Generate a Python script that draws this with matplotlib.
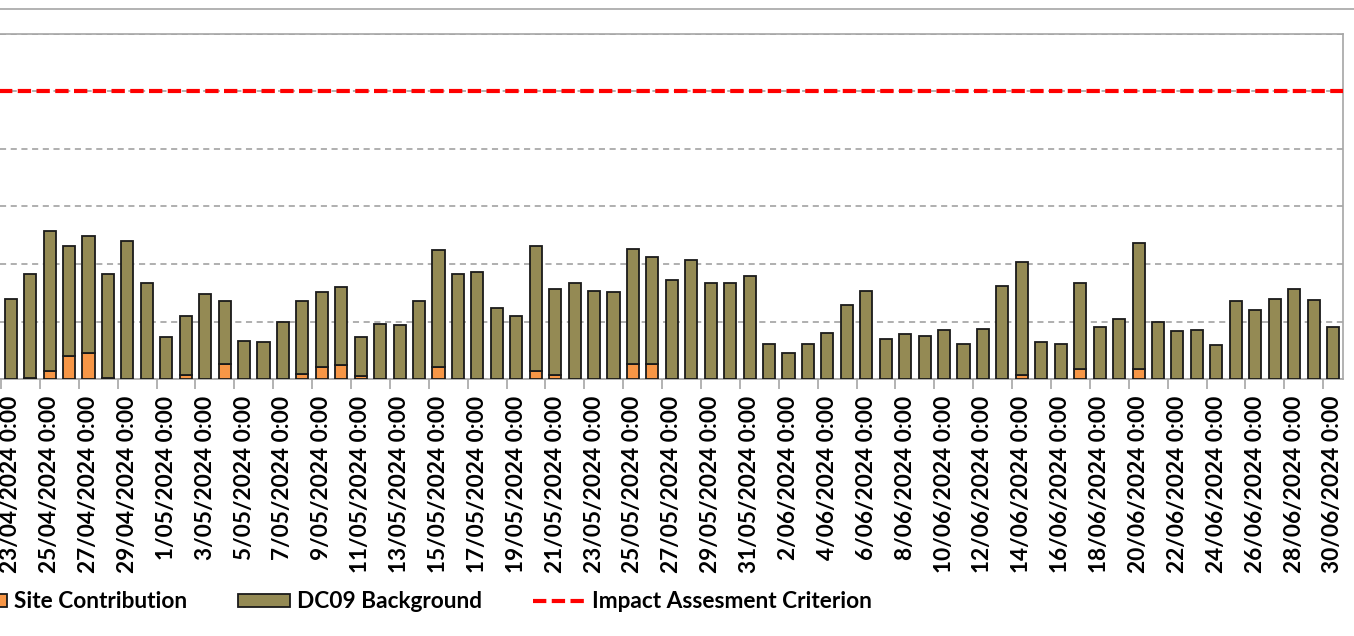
import numpy as np
import pandas as pd
import matplotlib.pyplot as plt
from matplotlib.lines import Line2D

# daily dates shown on the chart
start_date = "2024-04-23"
end_date = "2024-06-30"

# site contribution (bottom of stack)
site = [0, 0.3, 1.5, 4.0, 4.5, 0.3, 0, 0,
        0, 0.75, 0, 2.65, 0, 0, 0, 1.0, 2.1, 2.4, 0.5, 0, 0, 0, 2.1, 0,
        0, 0, 0, 1.5, 0.8, 0, 0, 0, 2.65, 2.65, 0, 0, 0, 0, 0,
        0, 0, 0, 0, 0, 0, 0, 0, 0, 0, 0, 0, 0, 0.8, 0, 0, 1.8, 0, 0,
        1.8, 0, 0, 0, 0, 0, 0, 0, 0, 0, 0]

# DC09 background (top of stack)
background = [14.0, 18.0, 24.3, 19.2, 20.3, 18.0, 24.0, 16.7,
              7.3, 10.25, 14.8, 10.85, 6.7, 6.4, 9.9, 12.5, 13.0, 13.7, 6.8,
              9.6, 9.4, 13.5, 20.3, 18.3, 18.6, 12.4, 11.0, 21.7, 14.8, 16.7,
              15.4, 15.1, 19.95, 18.65, 17.2, 20.7, 16.7, 16.7, 18.0,
              6.2, 4.6, 6.2, 8.1, 12.9, 15.4, 7.0, 7.8, 7.5, 8.6, 6.2, 8.8,
              16.2, 19.6, 6.5, 6.2, 14.9, 9.1, 10.5, 21.9, 9.9, 8.3, 8.6, 5.9,
              13.5, 12.1, 14.0, 15.6, 13.7, 9.1]

criterion = 50

dates = pd.date_range(start_date, end_date, freq="D")
labels = [f"{d.day}/{d.month:02d}/{d.year} 0:00" for d in dates]
n = len(dates)
x = np.arange(n)

W, H = 1354, 636
fig = plt.figure(figsize=(W / 100, H / 100), dpi=100)
plt.rcParams['font.family'] = ['Lato', 'DejaVu Sans']
fs = 16.3

# plot area in pixel terms
left_px, right_px, top_px, bot_px = 0, 1342.7, 33.5, 379.3
ax = fig.add_axes([left_px / W, 1 - bot_px / H, (right_px - left_px) / W, (bot_px - top_px) / H])

grey = '#a6a6a6'
b1 = ax.bar(x, site, width=0.62, color='#f79646', edgecolor='#1a1a1a', linewidth=1.3,
            label='Site Contribution', zorder=3)
b2 = ax.bar(x, background, bottom=site, width=0.62, color='#948a54', edgecolor='#1a1a1a',
            linewidth=1.3, label='DC09 Background', zorder=3)
l1, = ax.plot([-2, n + 2], [criterion, criterion], color='#ff0000', linewidth=3,
              dashes=(3.2, 1.3), label='Impact Assesment Criterion', zorder=4)

ax.set_xlim(-0.5 - 1 / 19.44, n - 0.5)
ax.set_ylim(0, 60)
ax.set_yticks(np.arange(0, 61, 10))
ax.yaxis.grid(True, color='#9a9a9a', linestyle=(0, (4, 3)), linewidth=1.1, zorder=0)
ax.tick_params(axis='y', left=False, labelleft=False)

# tick marks between categories every 2 days, labels under every second bar
ax.set_xticks(np.arange(-0.5, n, 2))
ax.set_xticklabels([])
ax.tick_params(axis='x', which='major', length=7, width=1.2, color=grey)
ax.set_xticks(x[::2], minor=True)
ax.set_xticklabels(labels[::2], minor=True, rotation=90, fontsize=fs,
                   fontweight='bold', va='top', ha='center')
ax.tick_params(axis='x', which='minor', length=0, pad=12)

ax.spines['left'].set_visible(False)
for s in ['top', 'right', 'bottom']:
    ax.spines[s].set_color(grey)
    ax.spines[s].set_linewidth(1.2)

# outer chart border line
fig.add_artist(Line2D([0, 1], [1 - 9 / H, 1 - 9 / H], color=grey, linewidth=1.2))

fig.legend(handles=[b1, b2, l1], loc='center left', bbox_to_anchor=(-45 / W, 1 - 602 / H),
           ncol=3, frameon=False, prop={'weight': 'bold', 'size': fs},
           handlelength=2.3, handleheight=0.55, handletextpad=0.3,
           columnspacing=2.25, borderpad=0, borderaxespad=0)

fig.savefig('out.png', dpi=100)
